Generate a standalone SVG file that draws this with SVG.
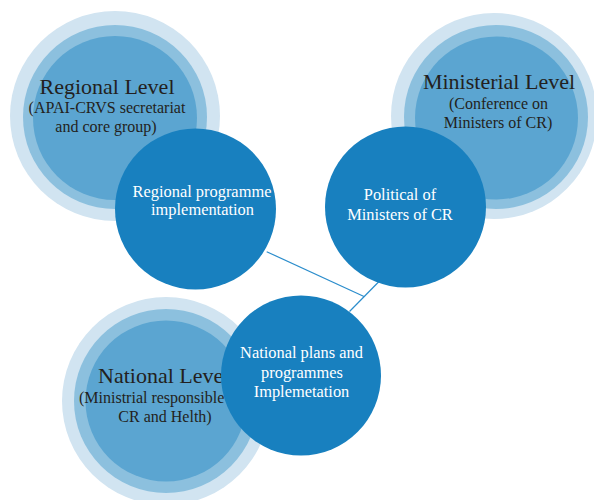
<svg xmlns="http://www.w3.org/2000/svg" width="594" height="500" viewBox="0 0 594 500">
<style>
.o{fill:#d1e4f1}
.m{fill:#8cc0de}
.i{fill:#5ba5d1}
.d{fill:#1880bf}
.h{font-family:"Liberation Serif",serif;font-size:22px;fill:#231f20;text-anchor:middle}
.s{font-family:"Liberation Serif",serif;font-size:16px;fill:#231f20;text-anchor:middle}
.w{font-family:"Liberation Serif",serif;font-size:16.4px;fill:#ffffff;text-anchor:middle}
.c{stroke:#2b8dcc;stroke-width:1.2;fill:none}
</style>
<rect width="594" height="500" fill="#ffffff"/>
<g id="regional-level">
<circle class="o" cx="115" cy="116" r="105"/>
<circle class="m" cx="115" cy="117" r="92"/>
<circle class="i" cx="115" cy="118" r="82"/>
<text class="h" x="107" y="94">Regional Level</text>
<text class="s" x="107" y="113">(APAI-CRVS secretariat</text>
<text class="s" x="106" y="132">and core group)</text>
</g>
<g id="ministerial-level">
<circle class="o" cx="494" cy="116" r="103"/>
<circle class="m" cx="496" cy="117" r="92"/>
<circle class="i" cx="496.5" cy="118" r="81.5"/>
<text class="h" x="499" y="89">Ministerial Level</text>
<text class="s" x="498.5" y="109">(Conference on</text>
<text class="s" x="498" y="128">Ministers of CR)</text>
</g>
<g id="national-level">
<circle class="o" cx="166" cy="401" r="104"/>
<circle class="m" cx="166" cy="401" r="92"/>
<circle class="i" cx="166" cy="401" r="80.5"/>
<text class="h" x="98" y="383" style="text-anchor:start">National Level</text>
<text class="s" x="79" y="403" style="text-anchor:start">(Ministrial responsible</text>
<text class="s" x="165" y="422">CR and Helth)</text>
</g>
<g id="connectors">
<line class="c" x1="266.7" y1="251.7" x2="364" y2="296.5"/>
<line class="c" x1="379" y1="281.5" x2="349.5" y2="311.5"/>
</g>
<g id="regional-programme">
<circle class="d" cx="195.5" cy="209" r="80.5"/>
<text class="w" x="202" y="197">Regional programme</text>
<text class="w" x="202.5" y="215">implementation</text>
</g>
<g id="political">
<circle class="d" cx="405.5" cy="207" r="80.5"/>
<text class="w" x="400" y="200">Political of</text>
<text class="w" x="400" y="220">Ministers of CR</text>
</g>
<g id="national-plans">
<circle class="d" cx="301" cy="375.5" r="80"/>
<text class="w" x="301.5" y="358">National plans and</text>
<text class="w" x="302" y="378">programmes</text>
<text class="w" x="301.5" y="397">Implemetation</text>
</g>
</svg>
